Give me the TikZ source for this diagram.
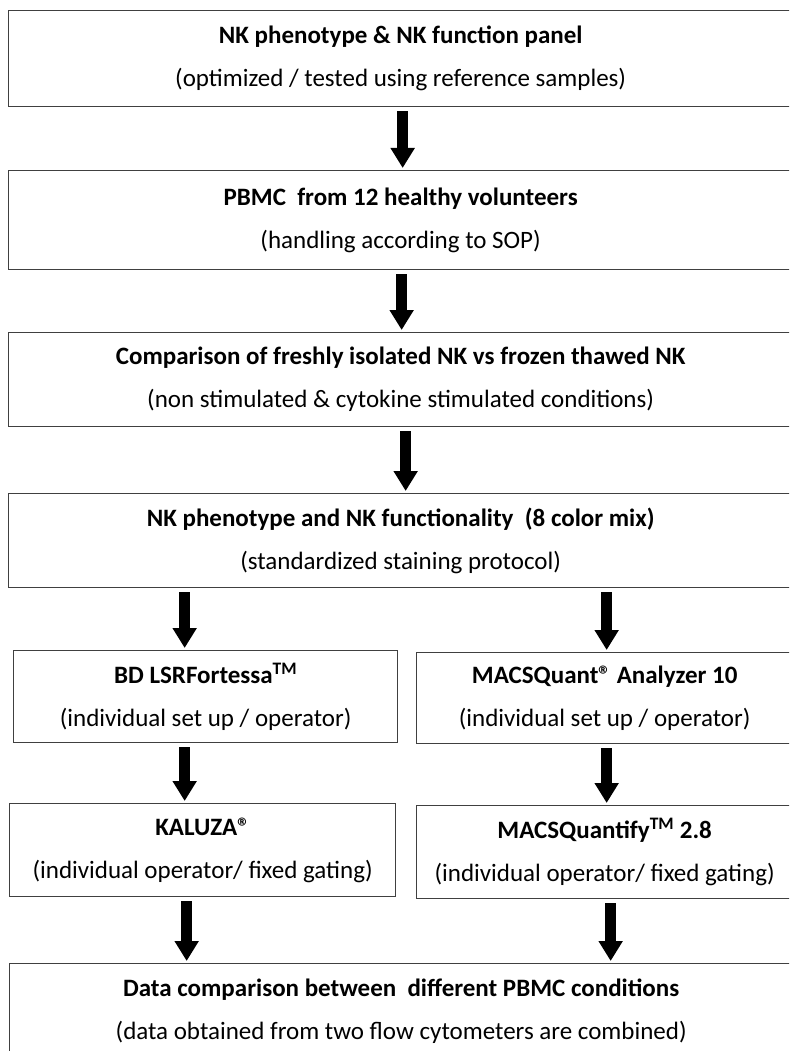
\documentclass[tikz,border=0pt]{standalone}
\usepackage{fontspec}
\setmainfont{Carlito}
\usetikzlibrary{arrows.meta}
\tikzset{
  stepbox/.style={draw=black!75, line width=1.3pt, align=center, anchor=north west, inner sep=0pt, font=\fontsize{25}{43}\selectfont},
  bigarrow/.style={line width=11pt, -{Triangle[width=23pt,length=20pt]}, shorten <=4pt, shorten >=2pt},
}
\begin{document}
\begin{tikzpicture}[x=1pt, y=-1pt]
		\useasboundingbox (0,0) rectangle (789,1051);
		\clip (0,0) rectangle (789,1051);
		% main column
		\node[stepbox, minimum width=784pt, minimum height=96pt] (panel) at (8,10) {\textbf{NK phenotype \& NK function panel}\\(optimized / tested using reference samples)};
		\node[stepbox, minimum width=784pt, minimum height=99pt] (pbmc) at (8,170) {\textbf{PBMC\ \ from 12 healthy volunteers}\\(handling according to SOP)};
		\node[stepbox, minimum width=784pt, minimum height=94pt] (compare) at (8,332) {\textbf{Comparison of freshly isolated NK vs frozen thawed NK}\\(non stimulated \& cytokine stimulated conditions)};
		\node[stepbox, minimum width=784pt, minimum height=94pt] (mix) at (8,493) {\textbf{NK phenotype and NK functionality\ \ (8 color mix)}\\(standardized staining protocol)};
		% two cytometers
		\node[stepbox, minimum width=384pt, minimum height=92pt] (fortessa) at (13,650) {\textbf{BD LSRFortessa\textsuperscript{TM}}\\(individual set up / operator)};
		\node[stepbox, minimum width=376pt, minimum height=91pt] (macsquant) at (416,652) {\textbf{MACSQuant® Analyzer 10}\\(individual set up / operator)};
		\node[stepbox, minimum width=386pt, minimum height=93pt] (kaluza) at (9,803) {\textbf{KALUZA®}\\(individual operator/ fixed gating)};
		\node[stepbox, minimum width=376pt, minimum height=93pt] (quantify) at (416,805) {\textbf{MACSQuantify\textsuperscript{TM} 2.8}\\(individual operator/ fixed gating)};
		\node[stepbox, minimum width=783pt, minimum height=96pt] (combined) at (9,963) {\textbf{Data comparison between\ \ different PBMC conditions}\\(data obtained from two flow cytometers are combined)};
		% arrows
		\draw[bigarrow] ([xshift=2pt]panel.south) -- ([xshift=2pt]pbmc.north);
		\draw[bigarrow] ([xshift=1pt]pbmc.south) -- ([xshift=1pt]compare.north);
		\draw[bigarrow] ([xshift=5pt]compare.south) -- ([xshift=5pt]mix.north);
		\draw[bigarrow] ([xshift=-21pt]fortessa.north |- mix.south) -- ([xshift=-21pt]fortessa.north);
		\draw[bigarrow] ([xshift=2pt]macsquant.north |- mix.south) -- ([xshift=2pt]macsquant.north);
		\draw[bigarrow] ([xshift=-21pt]fortessa.south) -- ([xshift=-21pt]fortessa.south |- kaluza.north);
		\draw[bigarrow] ([xshift=2pt]macsquant.south) -- ([xshift=2pt]macsquant.south |- quantify.north);
		\draw[bigarrow] ([xshift=-16pt]kaluza.south) -- ([xshift=-16pt]kaluza.south |- combined.north);
		\draw[bigarrow] ([xshift=6pt]quantify.south) -- ([xshift=6pt]quantify.south |- combined.north);
\end{tikzpicture}
\end{document}
